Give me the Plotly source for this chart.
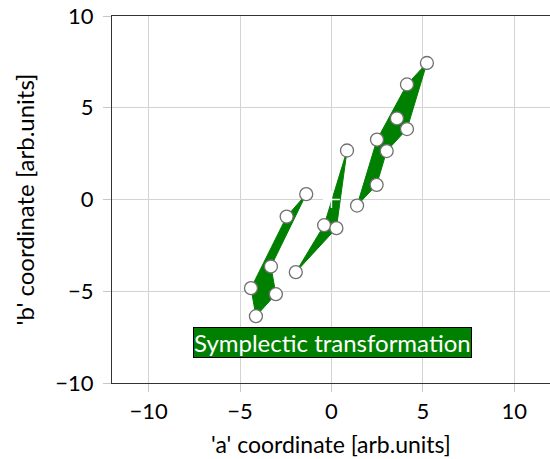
import plotly.graph_objects as go

# polygon boundaries (drawing order) and interior points
poly_left_a = [-1.38, -2.45, -4.40, -4.13, -3.04, -3.31]
poly_left_b = [0.29, -0.93, -4.83, -6.36, -5.16, -3.65]
poly_mid_a = [-1.95, -0.40, 0.85, 0.27]
poly_mid_b = [-3.96, -1.40, 2.67, -1.56]
poly_right_a = [1.40, 2.49, 4.13, 5.22, 4.13, 3.02, 2.47]
poly_right_b = [-0.33, 3.26, 6.27, 7.44, 3.84, 2.64, 0.80]
inner_right_a = [3.58]
inner_right_b = [4.42]
center_a = [0.0]
center_b = [0.0]
label_text = "Symplectic transformation"
label_pos = (0.05, -7.8)

GREEN = "#008000"
FONT = "Lato"

fig = go.Figure()
polys = [(poly_left_a, poly_left_b), (poly_mid_a, poly_mid_b), (poly_right_a, poly_right_b)]
for xa, yb in polys:
    fig.add_trace(go.Scatter(x=xa + xa[:1], y=yb + yb[:1], mode="lines", fill="toself",
                             fillcolor=GREEN, line=dict(color=GREEN, width=1),
                             hoverinfo="skip", showlegend=False))
for xa, yb in polys + [(inner_right_a, inner_right_b)]:
    fig.add_trace(go.Scatter(x=xa, y=yb, mode="markers",
                             marker=dict(size=13, color="white", line=dict(color="#707070", width=1.3)),
                             showlegend=False))
fig.add_trace(go.Scatter(x=center_a, y=center_b, mode="markers",
                         marker=dict(symbol="cross-thin", size=12, line=dict(color="white", width=1.5)),
                         showlegend=False))

fig.add_annotation(x=label_pos[0], y=label_pos[1], text=label_text, showarrow=False,
                   font=dict(family=FONT, size=24, color="white"),
                   bgcolor=GREEN, bordercolor="black", borderwidth=1, borderpad=0)

axis_common = dict(showgrid=True, gridcolor="#d3d3d3", gridwidth=1, zeroline=False,
                   showline=True, linecolor="#333333", linewidth=1.3,
                   ticks="outside", ticklen=8, tickcolor="#c8c8c8", tickwidth=1,
                   tickfont=dict(family=FONT, size=22, color="black"))
fig.update_xaxes(range=[-12, 11.95], tickvals=[-10, -5, 0, 5, 10], mirror=True,
                 title=dict(text="'a' coordinate [arb.units]", font=dict(family=FONT, size=23, color="black"), standoff=14),
                 **axis_common)
fig.update_yaxes(range=[-10, 10], tickvals=[-10, -5, 0, 5, 10], mirror=False, ticklabelstandoff=5,
                 title=dict(text="'b' coordinate [arb.units]", font=dict(family=FONT, size=24, color="black"), standoff=13),
                 **axis_common)
fig.update_layout(width=550, height=459, margin=dict(l=112, r=0, t=16, b=76),
                  plot_bgcolor="white", paper_bgcolor="white", showlegend=False,
                  font=dict(family=FONT))
fig.write_html("out.html")
